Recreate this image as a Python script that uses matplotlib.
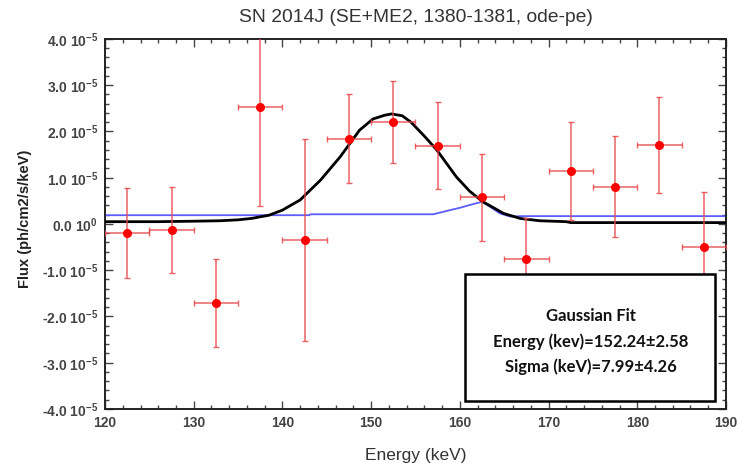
import matplotlib
matplotlib.use("Agg")
import matplotlib.pyplot as plt
from matplotlib.patches import Rectangle
from matplotlib.ticker import MultipleLocator

# data points, flux in units of 1e-5 ph/cm2/s/keV
energy = [122.5, 127.5, 132.5, 137.5, 142.5, 147.5, 152.5,
          157.5, 162.5, 167.5, 172.5, 177.5, 182.5, 187.5]
energy_halfwidth = [2.5] * 14
flux = [-0.20, -0.13, -1.71, 2.52, -0.35, 1.84, 2.21,
        1.69, 0.58, -0.75, 1.14, 0.81, 1.71, -0.49]
flux_err = [0.97, 0.93, 0.96, 2.13, 2.19, 0.96, 0.89,
            0.94, 0.94, 0.88, 1.06, 1.10, 1.03, 1.19]

# model curves
model_x = [120, 126, 130, 133, 135, 136.5, 138.5, 140, 142, 144.3, 146.5,
           148.7, 150.2, 151.5, 152.3, 153.5, 154.5, 156, 157.4, 159.6,
           161.1, 162.6, 164, 164.9, 166.8, 169, 172, 172.5, 180, 190]
model_y = [0.05, 0.05, 0.06, 0.07, 0.09, 0.12, 0.19, 0.30, 0.52, 0.95, 1.45,
           2.03, 2.27, 2.35, 2.38, 2.34, 2.20, 1.90, 1.60, 1.02,
           0.71, 0.48, 0.33, 0.23, 0.12, 0.07, 0.05, 0.03, 0.03, 0.03]
bkg_x = [120, 143, 143.2, 157, 158.9, 160, 161.1, 162.5, 163.5, 164.5,
         165.7, 167, 190]
bkg_y = [0.19, 0.19, 0.21, 0.21, 0.30, 0.35, 0.41, 0.48, 0.36, 0.23,
         0.16, 0.17, 0.17]

ytick_vals = [-4, -3, -2, -1, 0, 1, 2, 3, 4]
ytick_labels = ["-4.0 10$^{-5}$", "-3.0 10$^{-5}$", "-2.0 10$^{-5}$",
                "-1.0 10$^{-5}$", "0.0 10$^{0}$", "1.0 10$^{-5}$",
                "2.0 10$^{-5}$", "3.0 10$^{-5}$", "4.0 10$^{-5}$"]
fit_lines = ["Gaussian Fit", "Energy (kev)=152.24\u00b12.58",
             "Sigma (keV)=7.99\u00b14.26"]

plt.rcParams["font.family"] = ["Liberation Sans", "DejaVu Sans"]
plt.rcParams["mathtext.default"] = "regular"

fig = plt.figure(figsize=(7.38, 4.72), dpi=100)
ax = fig.add_axes([0.1423, 0.1335, 0.8414, 0.7839])

ax.plot(bkg_x, bkg_y, color="#5c5cff", lw=1.3, zorder=2)
ax.plot(model_x, model_y, color="black", lw=2.0, zorder=3)
ax.errorbar(energy, flux, xerr=energy_halfwidth, yerr=flux_err, fmt="none",
            ecolor="#e8484c", elinewidth=1.1, capsize=2.5, capthick=1.0,
            alpha=0.85, zorder=4)
ax.plot(energy, flux, "o", color="#ff0000", ms=5.5, zorder=5)

ax.set_xlim(120, 190)
ax.set_ylim(-4, 4)
ax.set_xticks([120, 130, 140, 150, 160, 170, 180, 190])
ax.xaxis.set_minor_locator(MultipleLocator(2))
ax.set_yticks(ytick_vals)
ax.set_yticklabels(ytick_labels)
ax.yaxis.set_minor_locator(MultipleLocator(0.2))
ax.tick_params(which="both", direction="in", top=True, right=True,
               colors="#444444", labelsize=10, width=1.0)
ax.tick_params(which="major", length=6, pad=5)
ax.tick_params(which="minor", length=3)
for lbl in ax.get_xticklabels() + ax.get_yticklabels():
    lbl.set_fontweight("bold")
for sp in ax.spines.values():
    sp.set_linewidth(1.4)
    sp.set_color("#222222")

ax.set_title("SN 2014J (SE+ME2, 1380-1381, ode-pe)", fontsize=13.9,
             color="#333333", pad=12)
ax.set_xlabel("Energy (keV)", fontsize=12.5, color="#333333", labelpad=13)
ax.set_ylabel("Flux (ph/cm2/s/keV)", fontsize=10.6, fontweight="bold",
              color="#222222", labelpad=10)
ax.yaxis.set_label_coords(-0.118, 0.515)

# fit results box
ax.add_patch(Rectangle((160.6, -3.83), 28.2, 2.74, facecolor="white",
                       edgecolor="black", lw=1.8, zorder=6))
for i, line in enumerate(fit_lines):
    ax.text(174.8, -2.0 - i * 0.54, line, ha="center", va="center",
            fontsize=12, fontweight="bold", family=["Lato", "DejaVu Sans"],
            color="#111111", zorder=7)

fig.savefig("out.png", dpi=100, facecolor="white")
